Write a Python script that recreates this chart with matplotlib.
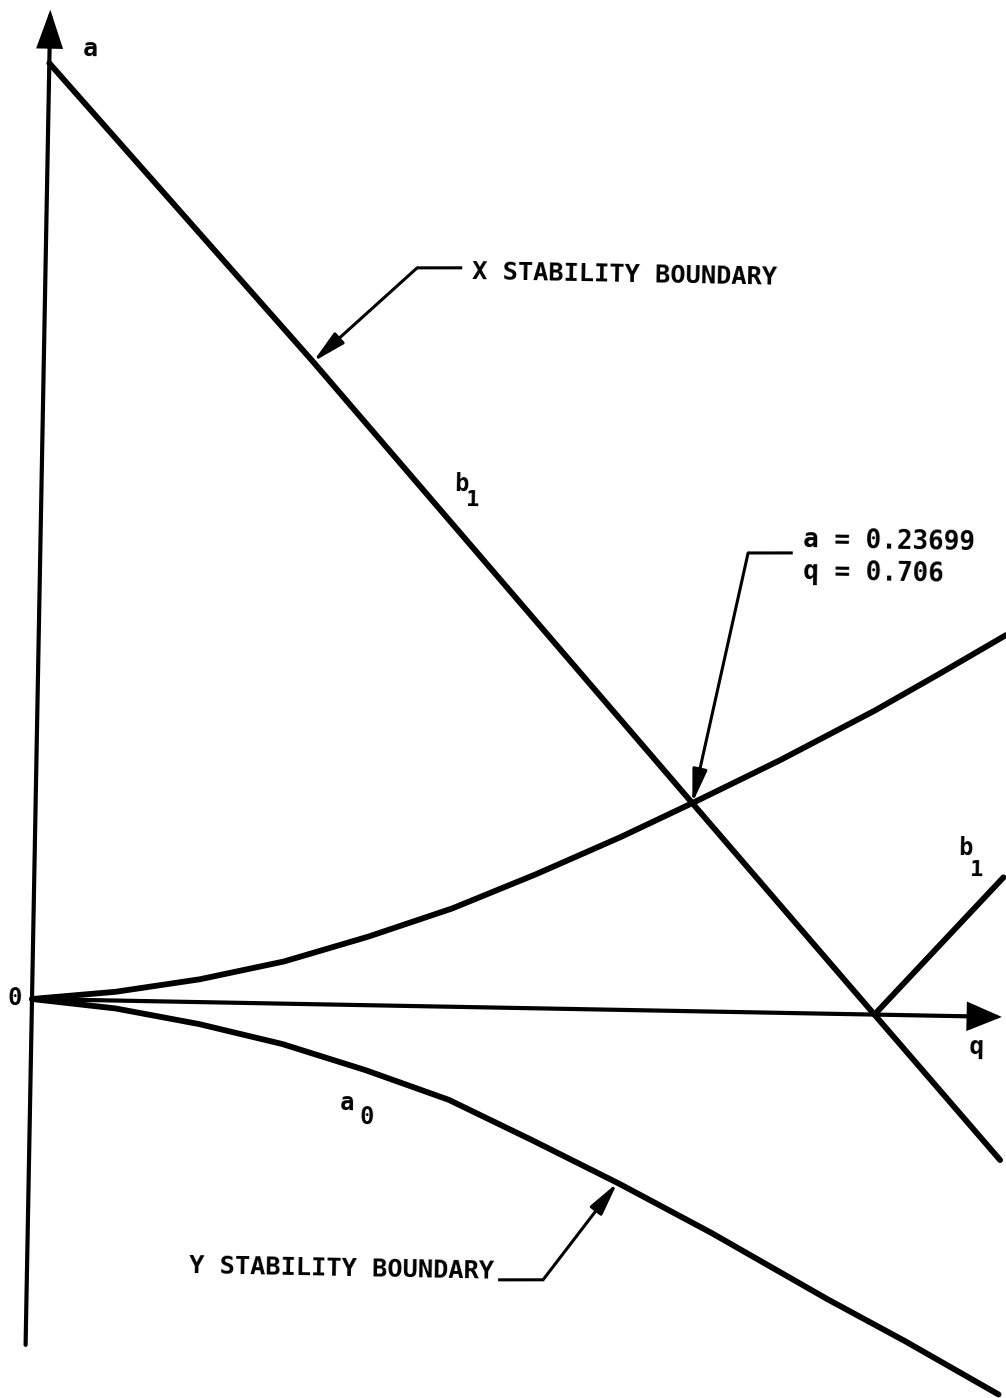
import numpy as np
import matplotlib
matplotlib.use("Agg")
import matplotlib.pyplot as plt
from matplotlib.transforms import Affine2D
from matplotlib.patches import FancyArrowPatch

# ---- stability boundary data (q, a) ----
# X stability boundary, lower-q branch (mirror of a0)
x_bound_q = [0.0, 0.09, 0.18, 0.27, 0.36, 0.45, 0.54, 0.63, 0.706, 0.80, 0.90, 0.97, 1.04]
x_bound_a = [0.0, 0.010, 0.026, 0.048, 0.078, 0.112, 0.153, 0.197, 0.23699, 0.288, 0.346, 0.390, 0.435]

# Y stability boundary, a0 curve
a0_q = [0.0, 0.09, 0.18, 0.27, 0.36, 0.45, 0.54, 0.635, 0.735, 0.861, 0.945, 1.047]
a0_a = [0.0, -0.009, -0.025, -0.046, -0.074, -0.106, -0.150, -0.198, -0.252, -0.325, -0.371, -0.430]

# b1 boundary for X (falling line)
b1_q = [0.0, 0.290, 0.706, 0.906, 1.044]
b1_a = [1.066, 0.731, 0.23699, 0.0, -0.163]

# b1 boundary for Y (rising line)
b1y_q = [0.906, 1.042]
b1y_a = [0.0, 0.159]

# apex of the stability region
apex_q, apex_a = 0.706, 0.23699
apex_text = ["a = 0.23699", "q = 0.706"]

W, H, DPI = 1006, 1398, 100
TILT = -1.06          # slight clockwise tilt of the drawing, degrees
ORIGIN_PX = (32, 399)  # display position of q=0, a=0

fig = plt.figure(figsize=(W / DPI, H / DPI), dpi=DPI)
fig.patch.set_facecolor("white")
ax = fig.add_axes([0, 0, 1, 1])
ax.set_xlim(-0.03441, 1.04731)
ax.set_ylim(-0.45444, 1.13781)
ax.axis("off")

rot = ax.transData + Affine2D().rotate_deg_around(ORIGIN_PX[0], ORIGIN_PX[1], TILT)

CURVE_LW = 4.2
AXIS_LW = 3.0
LEAD_LW = 2.2
FONT = "DejaVu Sans Mono"
WEIGHT = "bold"

# ---- axes with arrowheads ----
ax.add_patch(FancyArrowPatch((0.0, -0.394), (0.0, 1.127), transform=rot,
                             arrowstyle="-|>,head_length=1.1,head_width=0.38",
                             mutation_scale=20, lw=AXIS_LW, color="black",
                             shrinkA=0, shrinkB=0, joinstyle="miter"))
ax.add_patch(FancyArrowPatch((0.0, 0.0), (1.043, 0.0), transform=rot,
                             arrowstyle="-|>,head_length=1.0,head_width=0.42",
                             mutation_scale=20, lw=AXIS_LW, color="black",
                             shrinkA=0, shrinkB=0, joinstyle="miter"))

# ---- boundary curves ----
for qs, as_ in [(x_bound_q, x_bound_a), (a0_q, a0_a), (b1_q, b1_a), (b1y_q, b1y_a)]:
    ax.plot(qs, as_, color="black", lw=CURVE_LW, transform=rot,
            solid_capstyle="round", solid_joinstyle="round")


def label(q, a, s, size=17, ha="center", va="center"):
    ax.text(q, a, s, transform=rot, rotation=TILT, rotation_mode="anchor",
            ha=ha, va=va, fontsize=size, family=FONT, weight=WEIGHT, color="black")


def leader(points, tip):
    xs = [p[0] for p in points]
    ys = [p[1] for p in points]
    ax.plot(xs, ys, color="black", lw=LEAD_LW, transform=rot, solid_capstyle="butt")
    ax.add_patch(FancyArrowPatch(points[-1], tip, transform=rot,
                                 arrowstyle="-|>,head_length=1.0,head_width=0.22",
                                 mutation_scale=20, lw=LEAD_LW, color="black",
                                 shrinkA=0, shrinkB=0))


# axis labels
label(0.0445, 1.083, "a", size=18)
label(-0.0183, 0.0008, "0", size=17)
label(1.017, -0.0347, "q", size=18)

# curve labels
label(0.452, 0.5956, "b", size=17)
label(0.4643, 0.5776, "1", size=16)
label(1.0002, 0.1917, "b", size=17)
label(1.0136, 0.1669, "1", size=16)
label(0.3408, -0.1118, "a", size=17)
label(0.3626, -0.1273, "0", size=17)

# X stability boundary callout
tip_x = 0.2895
leader([(0.448, 0.8417), (0.3995, 0.8407)], (tip_x, np.interp(tip_x, b1_q, b1_a)))
label(0.4587, 0.837, "X STABILITY BOUNDARY", size=18.3, ha="left")

# Y stability boundary callout
tip_y = 0.633
leader([(0.5067, -0.310), (0.555, -0.309)], (tip_y, np.interp(tip_y, a0_q, a0_a)))
label(0.502, -0.301, "Y STABILITY BOUNDARY", size=18.3, ha="right")

# apex callout
leader([(0.809, 0.524), (0.761, 0.523)], (apex_q, apex_a))
label(0.820, 0.539, apex_text[0], size=18.7, ha="left")
label(0.8205, 0.5026, apex_text[1], size=18.7, ha="left")

fig.savefig("out.png", dpi=DPI, facecolor="white")
